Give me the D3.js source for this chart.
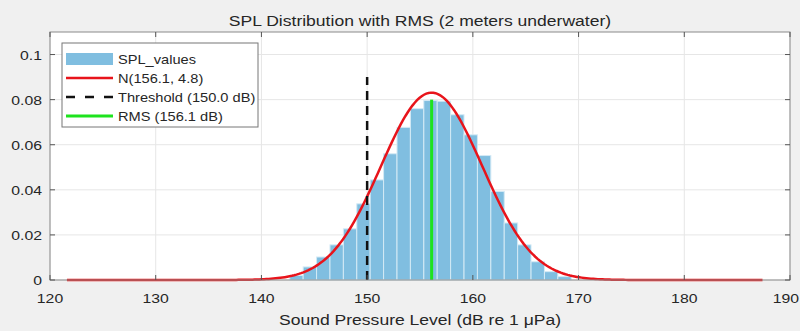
<!DOCTYPE html>
<html>
<head>
<meta charset="utf-8">
<script src="https://cdn.jsdelivr.net/npm/d3@7"></script>
<style>
  body { margin: 0; background: #f0f0f0; }
  svg { display: block; font-family: "Liberation Sans", Arial, sans-serif; }
</style>
</head>
<body>
<svg width="800" height="331"></svg>
<script>
// histogram bins (dB) and pdf-normalised heights
const binStart = 142.68;
const binWidth = 1.268;
const binValues = [0.002, 0.0058, 0.0102, 0.0156, 0.0227, 0.0338, 0.0444, 0.056, 0.0677, 0.076,
                   0.0796, 0.0793, 0.0733, 0.0644, 0.0552, 0.0393, 0.0253, 0.0156, 0.0081, 0.0037, 0.0015];

// fitted normal and marker lines
const mu = 156.1, sigma = 4.8;
const curveRange = [121.6, 187.4];
const threshold = 150.0, thresholdTop = 0.09;
const rms = 156.1, rmsTop = 0.08;

const xTicks = [120, 130, 140, 150, 160, 170, 180, 190];
const yTicks = [0, 0.02, 0.04, 0.06, 0.08, 0.1];
const legendItems = ["SPL_values", "N(156.1, 4.8)", "Threshold (150.0 dB)", "RMS (156.1 dB)"];

const svg = d3.select("svg");
const margin = { top: 32, right: 10, bottom: 51, left: 50 };
const width = 800 - margin.left - margin.right,
      height = 331 - margin.top - margin.bottom;

const x = d3.scaleLinear().domain([120, 190]).range([0, width]);
const y = d3.scaleLinear().domain([0, 0.11]).range([height, 0]);

const sx = 1.17; // texte un peu élargi comme sur la capture

function label(parent, px, py, txt, size, anchor) {
    return parent.append("text")
        .attr("transform", `translate(${px},${py}) scale(${sx},1)`)
        .attr("text-anchor", anchor || "start")
        .attr("font-size", size)
        .attr("fill", "#262626")
        .text(txt);
}

const g = svg.append("g").attr("transform", `translate(${margin.left},${margin.top})`);

g.append("rect").attr("width", width).attr("height", height).attr("fill", "#fff");

// grille
g.selectAll(".gx").data(xTicks).join("line")
    .attr("x1", d => x(d)).attr("x2", d => x(d))
    .attr("y1", 0).attr("y2", height)
    .attr("stroke", "#e6e6e6");
g.selectAll(".gy").data(yTicks).join("line")
    .attr("x1", 0).attr("x2", width)
    .attr("y1", d => y(d)).attr("y2", d => y(d))
    .attr("stroke", "#e6e6e6");

// barres
const bins = binValues.map((v, i) => ({ x0: binStart + i * binWidth, x1: binStart + (i + 1) * binWidth, v }));
g.selectAll(".bar").data(bins).join("rect")
    .attr("x", d => x(d.x0))
    .attr("y", d => y(d.v))
    .attr("width", d => x(d.x1) - x(d.x0))
    .attr("height", d => y(0) - y(d.v))
    .attr("fill", "#80bee0")
    .attr("stroke", "#d4eaf5")
    .attr("stroke-width", 1);

// courbe normale
const pdf = t => Math.exp(-0.5 * ((t - mu) / sigma) ** 2) / (sigma * Math.sqrt(2 * Math.PI));
const xs = d3.range(0, 301).map(i => curveRange[0] + i * (curveRange[1] - curveRange[0]) / 300);
g.append("path")
    .datum(xs)
    .attr("d", d3.line().x(d => x(d)).y(d => y(pdf(d))))
    .attr("fill", "none")
    .attr("stroke", "#e8141b")
    .attr("stroke-width", 2.5);

// seuil
g.append("line")
    .attr("x1", x(threshold)).attr("x2", x(threshold))
    .attr("y1", y(0)).attr("y2", y(thresholdTop))
    .attr("stroke", "#111").attr("stroke-width", 2.5)
    .attr("stroke-dasharray", "9,6");

// RMS
g.append("line")
    .attr("x1", x(rms)).attr("x2", x(rms))
    .attr("y1", y(0)).attr("y2", y(rmsTop))
    .attr("stroke", "#1ee31e").attr("stroke-width", 3);

// axes (boîte MATLAB)
const axisColor = "#8a8a8a";
const tick = 5;
g.append("rect").attr("width", width).attr("height", height)
    .attr("fill", "none").attr("stroke", axisColor);

xTicks.forEach((t, i) => {
    g.append("line").attr("x1", x(t)).attr("x2", x(t)).attr("y1", height).attr("y2", height - tick).attr("stroke", "#555");
    g.append("line").attr("x1", x(t)).attr("x2", x(t)).attr("y1", 0).attr("y2", tick).attr("stroke", "#555");
    // le dernier libellé est calé pour ne pas sortir du cadre
    const last = i === xTicks.length - 1;
    label(g, last ? width + margin.right - 1 : x(t), height + 23, t, 13.5, last ? "end" : "middle");
});
yTicks.forEach(t => {
    g.append("line").attr("x1", 0).attr("x2", tick).attr("y1", y(t)).attr("y2", y(t)).attr("stroke", "#555");
    g.append("line").attr("x1", width).attr("x2", width - tick).attr("y1", y(t)).attr("y2", y(t)).attr("stroke", "#555");
    label(g, -8, y(t) + 5, t, 13.5, "end");
});

label(svg, margin.left + width / 2, 26, "SPL Distribution with RMS (2 meters underwater)", 15, "middle");
label(svg, margin.left + width / 2, 325, "Sound Pressure Level (dB re 1 μPa)", 15, "middle");

// légende
const lg = svg.append("g").attr("transform", "translate(62,43)");
lg.append("rect").attr("width", 196).attr("height", 84)
    .attr("fill", "#fff").attr("stroke", "#777");
const rowY = [16, 35, 54, 73];
lg.append("rect").attr("x", 4).attr("y", rowY[0] - 6).attr("width", 47).attr("height", 12).attr("fill", "#80bee0");
lg.append("line").attr("x1", 4).attr("x2", 51).attr("y1", rowY[1]).attr("y2", rowY[1])
    .attr("stroke", "#e8141b").attr("stroke-width", 2.5);
lg.append("line").attr("x1", 4).attr("x2", 51).attr("y1", rowY[2]).attr("y2", rowY[2])
    .attr("stroke", "#111").attr("stroke-width", 2.5).attr("stroke-dasharray", "9,10");
lg.append("line").attr("x1", 4).attr("x2", 51).attr("y1", rowY[3]).attr("y2", rowY[3])
    .attr("stroke", "#1ee31e").attr("stroke-width", 3);
legendItems.forEach((d, i) => label(lg, 56, rowY[i] + 4.5, d, 12.5));
</script>
</body>
</html>
